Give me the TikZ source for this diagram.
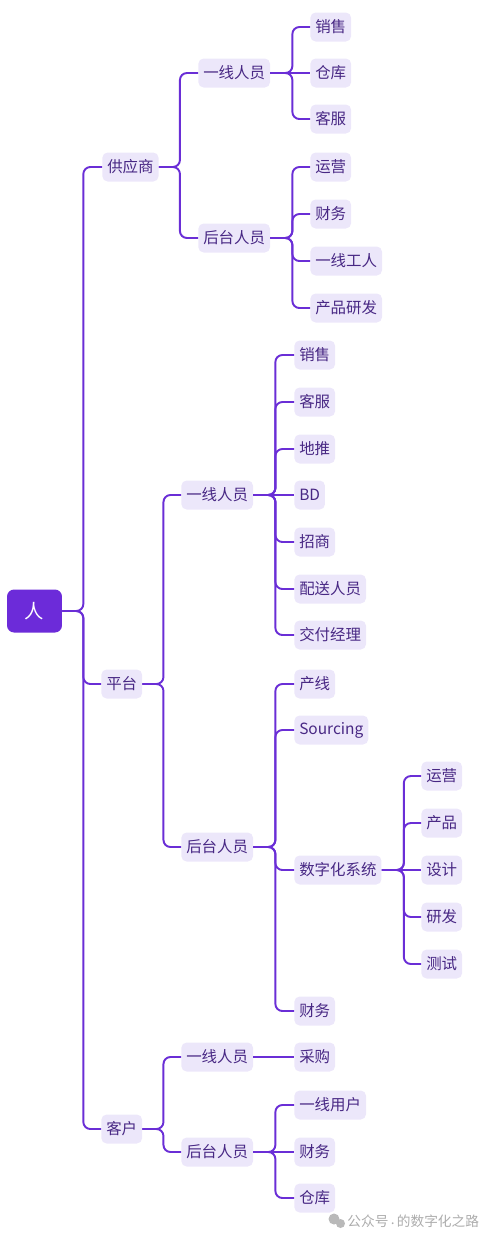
\documentclass[tikz,border=0pt]{standalone}
\usepackage{fontspec}
\setmainfont{Noto Sans CJK SC}
\definecolor{linecol}{RGB}{106,46,214}
\definecolor{boxcol}{RGB}{236,231,250}
\definecolor{textcol}{RGB}{72,40,132}
\definecolor{rootcol}{RGB}{108,43,217}
\begin{document}
\begin{tikzpicture}
        [x=0.02cm,y=-0.02cm,
         link/.style={draw=linecol,line width=1.1pt,rounded corners=4pt},
         elbow/.style={to path={-- ++(#1,0) |- (\tikztotarget)}},
         elbow/.default=22,
         flat/.style={to path={-- (\tikztotarget)}},
         item/.style={fill=boxcol,text=textcol,rounded corners=3pt,inner xsep=2.8pt,
           inner ysep=0pt,minimum height=0.58cm,anchor=west,font=\fontsize{8.8}{10}\selectfont},
         rootbox/.style={fill=rootcol,text=white,rounded corners=4pt,minimum width=1.1cm,
           minimum height=0.86cm,font=\fontsize{11}{12}\selectfont}]
        \useasboundingbox (0,0) rectangle (500,1242);

        \node[rootbox] (ren) at (34.5,611) {人};

        \node[item] (gys) at (102,167) {供应商};
        \node[item] (pt) at (101,684) {平台};
        \node[item] (kh) at (101,1129) {客户};
        \foreach \c in {gys,pt,kh}
        {\draw[link] (ren.east) to[elbow=21] (\c.west);}

        \node[item] (gys1) at (198,73) {一线人员};
        \node[item] (gys2) at (198,238) {后台人员};
        \node[item] (pt1) at (181,495) {一线人员};
        \node[item] (pt2) at (181,847) {后台人员};
        \node[item] (kh1) at (181,1057) {一线人员};
        \node[item] (kh2) at (181,1152) {后台人员};
        \foreach \p/\c in {gys/gys1,gys/gys2,pt/pt1,pt/pt2,kh/kh1,kh/kh2}
        {\draw[link] (\p.east) to[elbow=21] (\c.west);}

        % supplier
        \foreach \y/\t/\s [count=\i] in {27/销售/elbow,73/仓库/flat,119/客服/elbow}
        {\node[item] (ga\i) at (310,\y) {\t};
         \draw[link] (gys1.east) to[\s] (ga\i.west);}
        \foreach \y/\t [count=\i] in {167/运营,214/财务,261/一线工人,308/产品研发}
        {\node[item] (gb\i) at (310,\y) {\t};
         \draw[link] (gys2.east) to[elbow] (gb\i.west);}

        % platform
        \foreach \y/\t/\s [count=\i] in {355/销售/elbow,402/客服/elbow,449/地推/elbow,495/BD/flat,
                                           542/招商/elbow,589/配送人员/elbow,635/交付经理/elbow}
        {\node[item] (pa\i) at (294,\y) {\t};
         \draw[link] (pt1.east) to[\s] (pa\i.west);}
        \foreach \y/\t [count=\i] in {684/产线,730/Sourcing,870/数字化系统,1011/财务}
        {\node[item] (pb\i) at (294,\y) {\t};
         \draw[link] (pt2.east) to[elbow] (pb\i.west);}
        \foreach \y/\t/\s [count=\i] in {776/运营/elbow,823/产品/elbow,870/设计/flat,917/研发/elbow,964/测试/elbow}
        {\node[item] (sz\i) at (421,\y) {\t};
         \draw[link] (pb3.east) to[\s] (sz\i.west);}

        % customer
        \node[item] (ka1) at (294,1057) {采购};
        \draw[link] (kh1.east) to[flat] (ka1.west);
        \foreach \y/\t/\s [count=\i] in {1105/一线用户/elbow,1152/财务/flat,1198/仓库/elbow}
        {\node[item] (kb\i) at (294,\y) {\t};
         \draw[link] (kh2.east) to[\s] (kb\i.west);}

        % watermark
        \fill[gray!55] (334,1219) circle (5.5);
        \fill[gray!55] (340.5,1223.5) circle (4.5);
        \node[anchor=west,text=gray!65,inner sep=0pt,font=\fontsize{7.8}{9}\selectfont] (wm) at (347,1221) {公众号\,\raisebox{0.2ex}{.}\,的数字化之路};
      \end{tikzpicture}
\end{document}
